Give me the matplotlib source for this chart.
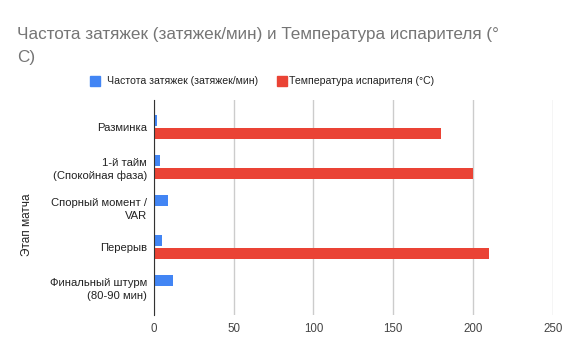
import numpy as np
import matplotlib.pyplot as plt

plt.rcParams['font.family'] = ['Liberation Sans', 'DejaVu Sans']

# Chart data
stages = ["Разминка", "1-й тайм\n(Спокойная фаза)", "Спорный момент /\nVAR",
          "Перерыв", "Финальный штурм\n(80-90 мин)"]
puffs = [2, 4, 9, 5, 12]
temps = [180, 200, 0, 210, 0]
puffs_label = "Частота затяжек (затяжек/мин)"
temps_label = "Температура испарителя (°C)"
x_ticks = [0, 50, 100, 150, 200, 250]

blue = "#4285F4"
red = "#EA4335"

fig = plt.figure(figsize=(5.70, 3.52), dpi=100)
ax = fig.add_axes([0.2702, 0.1051, 0.6994, 0.6108])

y = np.arange(len(stages))
h = 0.27
ax.barh(y - 0.158, puffs, height=h, color=blue, linewidth=0, zorder=3)
ax.barh(y + 0.158, temps, height=h, color=red, linewidth=0, zorder=3)

ax.set_xlim(0, 250)
ax.set_ylim(4.7, -0.675)
ax.set_xticks(x_ticks)
ax.set_xticklabels([str(t) for t in x_ticks], fontsize=8.3, color="#444444")
ax.set_yticks(y)
ax.set_yticklabels(stages, fontsize=8.1, color="#222222", linespacing=1.35)
ax.tick_params(axis="y", length=0, pad=5)
ax.tick_params(axis="x", length=0, pad=6)
ax.grid(axis="x", color="#cccccc", linewidth=1, zorder=0)
for s in ["top", "right", "bottom"]:
    ax.spines[s].set_visible(False)
ax.spines["left"].set_color("#333333")
ax.spines["left"].set_zorder(4)

fig.text(27 / 570, 1 - 225 / 352, "Этап матча", rotation=90, fontsize=8.5,
         color="#222222", ha="center", va="center")

fig.text(0.03, 1 - 39 / 352, "Частота затяжек (затяжек/мин) и Температура испарителя (°",
         fontsize=12.35, color="#757575", ha="left", va="baseline")
fig.text(0.03, 1 - 62 / 352, "C)",
         fontsize=12.35, color="#757575", ha="left", va="baseline")

# legend
ly = 1 - 81 / 352
fig.patches.append(plt.Rectangle((90 / 570, ly - 5 / 352), 10 / 570, 10 / 352,
                                 transform=fig.transFigure, color=blue))
fig.text(107 / 570, ly, puffs_label, fontsize=7.55, color="#222222", va="center")
fig.patches.append(plt.Rectangle((277 / 570, ly - 5 / 352), 10 / 570, 10 / 352,
                                 transform=fig.transFigure, color=red))
fig.text(289 / 570, ly, temps_label, fontsize=7.55, color="#222222", va="center")

fig.savefig("out.png", dpi=100)
